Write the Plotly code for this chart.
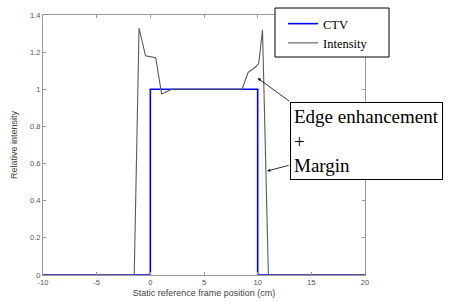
import plotly.graph_objects as go

# Data
ctv_x = [-10, 0, 0, 10, 10, 20]
ctv_y = [0, 0, 1.0, 1.0, 0, 0]

int_x = [-10, -1.5, -1.05, -0.45, 0.5, 1.05, 2.0, 4.0, 6.0, 8.0, 8.55, 9.1, 9.8, 10.1, 10.45, 11.0, 20]
int_y = [0, 0, 1.33, 1.18, 1.17, 0.975, 1.0, 1.0, 1.0, 1.0, 1.0, 1.09, 1.12, 1.14, 1.32, 0, 0]

x_ticks = [-10, -5, 0, 5, 10, 15, 20]
y_ticks = [0, 0.2, 0.4, 0.6, 0.8, 1.0, 1.2, 1.4]
y_tick_labels = ["0", "0.2", "0.4", "0.6", "0.8", "1", "1.2", "1.4"]

L, R, T, B = 43, 365, 15, 275
W, H = 453, 302
PW, PH = R - L, B - T


def px(x):
    return (x - L) / PW


def py(y):
    return (B - y) / PH


fig = go.Figure()
fig.add_trace(go.Scatter(x=ctv_x, y=ctv_y, mode="lines", name="CTV",
                         line=dict(color="#0000ff", width=1.6)))
fig.add_trace(go.Scatter(x=int_x, y=int_y, mode="lines", name="Intensity",
                         line=dict(color="#5a5a5a", width=1.1)))

axis_common = dict(showgrid=False, zeroline=False, showline=True, mirror="ticks",
                   linecolor="#9a9a9a", linewidth=1, ticks="inside", ticklen=3,
                   tickcolor="#9a9a9a", automargin=False,
                   tickfont=dict(family="Liberation Sans, Arial", size=7.5, color="#555555"))

fig.update_xaxes(range=[-10, 20], tickvals=x_ticks, ticktext=[str(v) for v in x_ticks],
                 title=dict(text="Static reference frame position (cm)", standoff=3,
                            font=dict(family="Liberation Sans, Arial", size=9, color="#444444")),
                 **axis_common)
fig.update_yaxes(range=[0, 1.4], tickvals=y_ticks, ticktext=y_tick_labels,
                 title=dict(text="Relative intensity", standoff=10,
                            font=dict(family="Liberation Sans, Arial", size=9, color="#444444")),
                 **axis_common)

# Legend frame (drawn as a shape so its size matches the reference)
fig.add_shape(type="rect", xref="paper", yref="paper",
              x0=px(275), x1=px(389), y0=py(57), y1=py(8),
              line=dict(color="black", width=1), fillcolor="white", layer="above")

# Text box
fig.add_annotation(xref="paper", yref="paper", x=px(290), y=py(102),
                   xanchor="left", yanchor="top", showarrow=False, align="left",
                   text="Edge enhancement<br>+<br>Margin",
                   font=dict(family="Liberation Serif, Times New Roman", size=19, color="black"),
                   bgcolor="white", bordercolor="black", borderwidth=1, borderpad=3)

# Arrows
fig.add_annotation(x=10.0, y=1.06, xref="x", yref="y", ax=33, ay=24, text="",
                   showarrow=True, arrowhead=2, arrowsize=0.8, arrowwidth=0.8, arrowcolor="black")
fig.add_annotation(x=10.88, y=0.56, xref="x", yref="y", ax=23, ay=-6, text="",
                   showarrow=True, arrowhead=2, arrowsize=0.8, arrowwidth=0.8, arrowcolor="black")

fig.update_layout(
    width=W, height=H,
    margin=dict(l=L, r=W - R, t=T, b=H - B, autoexpand=False),
    paper_bgcolor="white", plot_bgcolor="white",
    legend=dict(x=px(283), y=py(9), xanchor="left", yanchor="top",
                bgcolor="rgba(0,0,0,0)", borderwidth=0,
                font=dict(family="Liberation Serif, Times New Roman", size=12.5, color="black"),
                itemwidth=30, tracegroupgap=0),
)

fig.write_html("out.html", config={"displayModeBar": False},
               post_script="document.body.style.margin='0px';document.body.style.overflow='hidden';")
